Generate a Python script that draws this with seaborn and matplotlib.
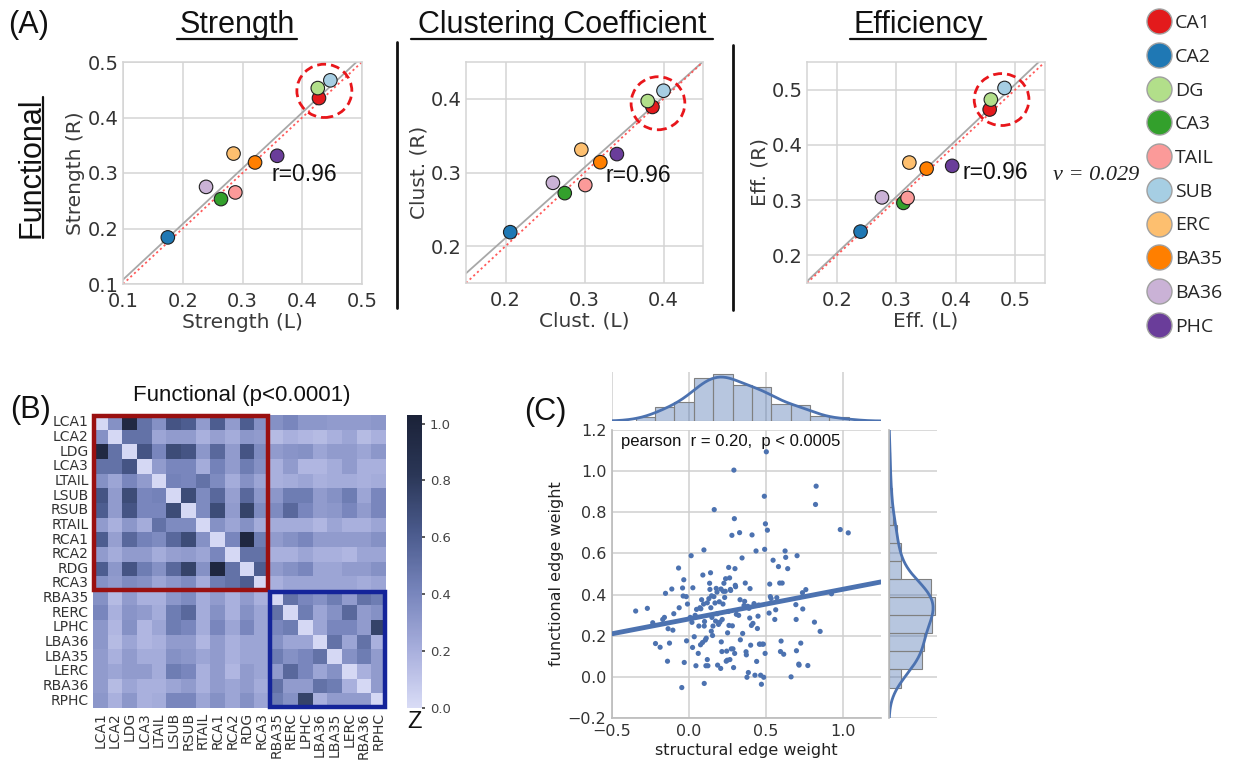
import numpy as np
import pandas as pd
import matplotlib
matplotlib.use("Agg")
import matplotlib.pyplot as plt
import seaborn as sns
from matplotlib.patches import Ellipse, Rectangle
from matplotlib.lines import Line2D
from matplotlib.colors import LinearSegmentedColormap

# ---------------- data ----------------
regions = ["CA1", "CA2", "DG", "CA3", "TAIL", "SUB", "ERC", "BA35", "BA36", "PHC"]
region_colors = ["#e31a1c", "#1f78b4", "#b2df8a", "#33a02c", "#fb9a99",
                 "#a6cee3", "#fdbf6f", "#ff7f00", "#cab2d6", "#6a3d9a"]

strength_L = [0.428, 0.175, 0.426, 0.264, 0.288, 0.447, 0.285, 0.321, 0.239, 0.358]
strength_R = [0.435, 0.184, 0.453, 0.253, 0.265, 0.467, 0.335, 0.319, 0.275, 0.331]
clust_L = [0.386, 0.206, 0.380, 0.275, 0.301, 0.400, 0.296, 0.320, 0.260, 0.341]
clust_R = [0.389, 0.219, 0.397, 0.272, 0.283, 0.411, 0.331, 0.314, 0.286, 0.325]
eff_L = [0.457, 0.240, 0.459, 0.312, 0.319, 0.482, 0.322, 0.351, 0.276, 0.394]
eff_R = [0.464, 0.243, 0.482, 0.295, 0.304, 0.503, 0.368, 0.357, 0.305, 0.362]

hm_labels = ["LCA1", "LCA2", "LDG", "LCA3", "LTAIL", "LSUB", "RSUB", "RTAIL", "RCA1", "RCA2",
             "RDG", "RCA3", "RBA35", "RERC", "LPHC", "LBA36", "LBA35", "LERC", "RBA36", "RPHC"]
hm_values = [
    [0.02, 0.35, 0.95, 0.50, 0.35, 0.65, 0.60, 0.30, 0.60, 0.30, 0.60, 0.35, 0.35, 0.40, 0.32, 0.32, 0.30, 0.30, 0.30, 0.32],
    [0.35, 0.02, 0.50, 0.50, 0.25, 0.30, 0.30, 0.20, 0.28, 0.22, 0.32, 0.30, 0.15, 0.20, 0.17, 0.15, 0.20, 0.25, 0.15, 0.20],
    [0.95, 0.50, 0.02, 0.65, 0.40, 0.70, 0.65, 0.32, 0.55, 0.30, 0.65, 0.38, 0.30, 0.33, 0.35, 0.25, 0.30, 0.30, 0.25, 0.32],
    [0.50, 0.50, 0.65, 0.02, 0.30, 0.40, 0.40, 0.22, 0.42, 0.30, 0.45, 0.35, 0.20, 0.30, 0.17, 0.17, 0.22, 0.30, 0.20, 0.20],
    [0.35, 0.25, 0.40, 0.30, 0.02, 0.42, 0.40, 0.50, 0.38, 0.22, 0.35, 0.25, 0.20, 0.22, 0.25, 0.20, 0.22, 0.22, 0.20, 0.22],
    [0.65, 0.30, 0.70, 0.40, 0.42, 0.02, 0.70, 0.38, 0.55, 0.28, 0.55, 0.32, 0.32, 0.45, 0.45, 0.30, 0.35, 0.45, 0.25, 0.40],
    [0.60, 0.30, 0.65, 0.40, 0.40, 0.70, 0.02, 0.38, 0.70, 0.30, 0.75, 0.38, 0.38, 0.55, 0.40, 0.30, 0.32, 0.40, 0.30, 0.40],
    [0.30, 0.20, 0.32, 0.22, 0.50, 0.38, 0.38, 0.02, 0.35, 0.25, 0.35, 0.22, 0.22, 0.22, 0.22, 0.17, 0.25, 0.20, 0.20, 0.25],
    [0.60, 0.28, 0.55, 0.42, 0.38, 0.55, 0.70, 0.35, 0.02, 0.40, 0.97, 0.45, 0.30, 0.35, 0.40, 0.30, 0.30, 0.30, 0.30, 0.35],
    [0.30, 0.22, 0.30, 0.30, 0.22, 0.28, 0.30, 0.25, 0.40, 0.02, 0.50, 0.50, 0.20, 0.20, 0.25, 0.20, 0.20, 0.17, 0.25, 0.25],
    [0.60, 0.32, 0.65, 0.45, 0.35, 0.55, 0.75, 0.35, 0.97, 0.50, 0.02, 0.60, 0.30, 0.35, 0.40, 0.25, 0.25, 0.30, 0.30, 0.35],
    [0.35, 0.30, 0.38, 0.35, 0.25, 0.32, 0.38, 0.22, 0.45, 0.50, 0.60, 0.02, 0.20, 0.25, 0.25, 0.25, 0.25, 0.25, 0.22, 0.25],
    [0.35, 0.15, 0.30, 0.20, 0.20, 0.32, 0.38, 0.22, 0.30, 0.20, 0.30, 0.20, 0.02, 0.50, 0.40, 0.35, 0.45, 0.30, 0.50, 0.45],
    [0.40, 0.20, 0.33, 0.30, 0.22, 0.45, 0.55, 0.22, 0.35, 0.20, 0.35, 0.25, 0.50, 0.02, 0.45, 0.25, 0.35, 0.55, 0.30, 0.35],
    [0.32, 0.17, 0.35, 0.17, 0.25, 0.45, 0.40, 0.22, 0.40, 0.25, 0.40, 0.25, 0.40, 0.45, 0.02, 0.25, 0.40, 0.40, 0.30, 0.75],
    [0.32, 0.15, 0.25, 0.17, 0.20, 0.30, 0.30, 0.17, 0.30, 0.20, 0.25, 0.25, 0.35, 0.25, 0.25, 0.02, 0.50, 0.25, 0.50, 0.20],
    [0.30, 0.20, 0.30, 0.22, 0.22, 0.35, 0.32, 0.25, 0.30, 0.20, 0.25, 0.25, 0.45, 0.35, 0.40, 0.50, 0.02, 0.35, 0.45, 0.30],
    [0.30, 0.25, 0.30, 0.30, 0.22, 0.45, 0.40, 0.20, 0.30, 0.17, 0.30, 0.25, 0.30, 0.55, 0.40, 0.25, 0.35, 0.02, 0.20, 0.30],
    [0.30, 0.15, 0.25, 0.20, 0.20, 0.25, 0.30, 0.20, 0.30, 0.25, 0.30, 0.22, 0.50, 0.30, 0.30, 0.50, 0.45, 0.20, 0.02, 0.30],
    [0.32, 0.20, 0.32, 0.20, 0.22, 0.40, 0.40, 0.25, 0.35, 0.25, 0.35, 0.25, 0.45, 0.35, 0.75, 0.20, 0.30, 0.30, 0.30, 0.02],
]
cbar_ticks = [0.0, 0.2, 0.4, 0.6, 0.8, 1.0]

structural_w = [
    -0.346, -0.270, -0.235, -0.217, -0.187, -0.170, -0.159, -0.152, -0.139, -0.135,
    -0.126, -0.111, -0.104, -0.098, -0.067, -0.063, -0.046, -0.041, -0.037, -0.033,
    -0.030, -0.017, -0.015, -0.009, 0.009, 0.015, 0.020, 0.024, 0.026, 0.035,
    0.041, 0.046, 0.050, 0.061, 0.065, 0.072, 0.076, 0.078, 0.083, 0.089,
    0.091, 0.096, 0.098, 0.100, 0.100, 0.102, 0.107, 0.111, 0.113, 0.120,
    0.120, 0.124, 0.130, 0.135, 0.137, 0.141, 0.143, 0.146, 0.148, 0.150,
    0.154, 0.157, 0.163, 0.165, 0.170, 0.174, 0.178, 0.183, 0.185, 0.187,
    0.193, 0.198, 0.202, 0.207, 0.209, 0.211, 0.215, 0.217, 0.222, 0.224,
    0.228, 0.233, 0.237, 0.239, 0.243, 0.246, 0.250, 0.252, 0.257, 0.259,
    0.261, 0.265, 0.267, 0.270, 0.272, 0.276, 0.280, 0.283, 0.287, 0.291,
    0.293, 0.296, 0.298, 0.300, 0.302, 0.304, 0.309, 0.324, 0.330, 0.333,
    0.335, 0.346, 0.350, 0.359, 0.363, 0.367, 0.372, 0.374, 0.378, 0.383,
    0.387, 0.391, 0.396, 0.398, 0.402, 0.407, 0.411, 0.417, 0.424, 0.430,
    0.437, 0.441, 0.446, 0.450, 0.454, 0.459, 0.463, 0.467, 0.472, 0.478,
    0.485, 0.487, 0.491, 0.493, 0.496, 0.498, 0.504, 0.511, 0.522, 0.526,
    0.530, 0.535, 0.548, 0.559, 0.565, 0.572, 0.583, 0.591, 0.596, 0.600,
    0.607, 0.617, 0.626, 0.630, 0.643, 0.665, 0.696, 0.698, 0.700, 0.704,
    0.715, 0.717, 0.728, 0.739, 0.741, 0.761, 0.774, 0.817, 0.824, 0.828,
    0.854, 0.928, 0.985, 1.037,
]
functional_w = [
    0.320, 0.333, 0.263, 0.162, 0.144, 0.279, 0.289, 0.406, 0.076, 0.234,
    0.164, 0.427, 0.227, 0.307, 0.529, 0.336, -0.052, 0.432, 0.393, 0.472,
    0.070, 0.390, 0.175, 0.354, 0.289, 0.589, 0.265, 0.143, 0.433, 0.195,
    0.299, 0.054, 0.328, 0.114, 0.247, 0.336, 0.156, 0.331, 0.375, 0.167,
    0.495, 0.354, 0.617, 0.247, -0.032, 0.269, 0.179, 0.054, 0.188, 0.084,
    0.360, 0.054, 0.380, 0.455, 0.425, 0.506, 0.336, 0.222, 0.394, 0.289,
    0.201, 0.247, 0.390, 0.813, 0.359, 0.271, 0.430, 0.412, 0.307, 0.057,
    0.255, 0.365, 0.266, 0.041, 0.427, 0.170, 0.123, 0.279, 0.354, 0.416,
    0.455, 0.386, 0.416, 0.477, 0.076, 0.125, 0.081, 0.214, 0.318, 0.532,
    0.250, 0.481, 0.084, 0.425, 0.420, 0.136, 0.688, 0.248, 0.136, 0.045,
    1.005, 0.769, 0.114, 0.526, 0.445, 0.438, 0.304, 0.299, 0.701, 0.375,
    0.180, 0.578, 0.211, 0.347, 0.367, 0.456, 0.122, 0.107, -0.002, 0.343,
    0.021, 0.333, 0.286, 0.429, 0.154, 0.250, 0.690, 0.260, 0.356, 0.008,
    0.612, 0.075, 0.235, 0.295, 0.349, 0.159, 0.159, 0.008, -0.036, 0.159,
    0.159, -0.002, 0.878, 0.620, 0.114, 0.744, 1.094, 0.713, 0.310, 0.451,
    0.390, 0.381, 0.567, 0.279, 0.326, 0.385, 0.536, 0.456, 0.123, 0.174,
    0.456, 0.110, 0.612, 0.581, 0.526, 0.000, 0.351, 0.279, 0.127, 0.589,
    0.062, 0.057, 0.164, 0.409, 0.330, 0.424, 0.055, 0.266, 0.838, 0.927,
    0.221, 0.404, 0.716, 0.700,
]

# ---------------- figure ----------------
sns.set_theme(style="white")
plt.rcParams["font.family"] = ["DejaVu Sans"]
W, H = 1233, 772
fig = plt.figure(figsize=(W / 100, H / 100), dpi=100)


def ax_px(l, t, r, b):
    return fig.add_axes([l / W, 1 - b / H, (r - l) / W, (b - t) / H])


def fx(x):
    return x / W


def fy(y):
    return 1 - y / H


pal = dict(zip(regions, region_colors))
GRID = "#d4d4d4"
TXT = "#333333"


def panel_a(ax, xs, ys, lim, ticks, xlabel, ylabel, circ, rpos):
    df = pd.DataFrame({"L": xs, "R": ys, "region": regions})
    ax.set_xlim(lim)
    ax.set_ylim(lim)
    sns.regplot(data=df, x="L", y="R", ax=ax, scatter=False, ci=None, truncate=False,
                color="#a8a8a8", line_kws={"lw": 1.3, "zorder": 2})
    ax.axline((0, 0), (1, 1), color="#ff5a5a", ls=(0, (1.2, 1.6)), lw=1.3, zorder=2)
    sns.scatterplot(data=df, x="L", y="R", hue="region", palette=pal, s=95,
                    edgecolor="#202020", linewidth=0.8, legend=False, ax=ax, zorder=4)
    ax.add_patch(Ellipse(circ[:2], 2 * circ[2], 2 * circ[3], fill=False,
                         ec="#e8161b", ls=(0, (3.2, 1.8)), lw=2.0, zorder=5))
    ax.text(rpos[0], rpos[1], "r=0.96", fontsize=16.5, family="Liberation Sans",
            color="#111", va="center", ha="left", zorder=6)
    ax.set_xlim(lim)
    ax.set_ylim(lim)
    ax.set_xticks(ticks)
    ax.set_yticks(ticks)
    ax.grid(True, color=GRID, lw=1.1)
    ax.set_axisbelow(True)
    for s in ax.spines.values():
        s.set_color(GRID)
        s.set_linewidth(1.1)
    ax.tick_params(labelsize=14, colors=TXT, length=0)
    ax.tick_params(axis="x", pad=6)
    ax.tick_params(axis="y", pad=3)
    ax.set_xlabel(xlabel, fontsize=14.5, color="#3a3a3a", labelpad=1)
    ax.set_ylabel(ylabel, fontsize=14.5, color="#3a3a3a", labelpad=2)


ax1 = ax_px(123, 62, 362, 284)
panel_a(ax1, strength_L, strength_R, (0.1, 0.5), [0.1, 0.2, 0.3, 0.4, 0.5],
        "Strength (L)", "Strength (R)", (0.437, 0.448, 0.046, 0.048), (0.349, 0.298))
ax2 = ax_px(466, 62, 703, 283)
panel_a(ax2, clust_L, clust_R, (0.15, 0.45), [0.2, 0.3, 0.4],
        "Clust. (L)", "Clust. (R)", (0.393, 0.394, 0.034, 0.036), (0.326, 0.296))
ax3 = ax_px(807, 62, 1045, 283)
panel_a(ax3, eff_L, eff_R, (0.15, 0.55), [0.2, 0.3, 0.4, 0.5],
        "Eff. (L)", "Eff. (R)", (0.477, 0.482, 0.046, 0.047), (0.412, 0.35))

# titles with underlines
title_font = dict(family="Liberation Sans", fontsize=22, color="#111")
for cx, txt, (u0, u1) in [(237, "Strength", (177, 297)),
                          (562, "Clustering Coefficient", (411, 713)),
                          (918, "Efficiency", (850, 986))]:
    fig.text(fx(cx), fy(33), txt, ha="center", va="baseline", **title_font)
    fig.add_artist(Line2D([fx(u0), fx(u1)], [fy(39), fy(39)], color="#111", lw=1.6))

fig.text(fx(8), fy(33), "(A)", ha="left", va="baseline", **title_font)
fig.text(fx(32), fy(168), "Functional", rotation=90, ha="center", va="center", **title_font)
fig.add_artist(Line2D([fx(43), fx(43)], [fy(97), fy(238)], color="#111", lw=1.6))

# separators
fig.add_artist(Line2D([fx(397), fx(397)], [fy(42), fy(308)], color="#111", lw=2))
fig.add_artist(Line2D([fx(733), fx(733)], [fy(45), fy(310)], color="#111", lw=2))

fig.text(fx(1053), fy(176), "ν = 0.029", family="Liberation Serif", style="italic",
         fontsize=16, ha="left", va="center", color="#222")

# legend
handles = [Line2D([], [], marker="o", ls="", markersize=18, markerfacecolor=c,
                  markeredgecolor="#a0a0a0", markeredgewidth=1.0) for c in region_colors]
fig.legend(handles, regions, loc="upper left", bbox_to_anchor=(fx(1146), fy(14)),
           frameon=False, prop={"family": "Open Sans", "size": 14},
           handletextpad=0.2, labelspacing=0.81, handlelength=1.3, borderaxespad=0,
           borderpad=0)

# ---------------- panel B ----------------
cmap = LinearSegmentedColormap.from_list(
    "func", ["#d9dcf6", "#a7aedc", "#7684bb", "#4a5a8c", "#2a3656", "#1b2238"])
hax = ax_px(93, 415, 386, 708)
cax = ax_px(407, 415, 422, 708)
hm_df = pd.DataFrame(hm_values, index=hm_labels, columns=hm_labels)
sns.heatmap(hm_df, ax=hax, cmap=cmap, vmin=0, vmax=1.03, cbar_ax=cax,
            xticklabels=hm_labels, yticklabels=hm_labels,
            cbar_kws={"ticks": cbar_ticks})
hax.tick_params(labelsize=10, colors="#333", length=2, pad=1)
hax.set_yticklabels(hm_labels, rotation=0)
hax.set_xticklabels(hm_labels, rotation=90)
cax.tick_params(labelsize=9.5, colors="#444", length=2)
cax.set_yticklabels([f"{t:.1f}" for t in cbar_ticks])
for s in cax.spines.values():
    s.set_visible(False)
hax.add_patch(Rectangle((0, 0), 12, 12, fill=False, ec="#ee1010", lw=1.2, clip_on=False, zorder=5))
hax.add_patch(Rectangle((0.08, 0.08), 11.84, 11.84, fill=False, ec="#9a1010", lw=3.2, clip_on=False, zorder=6))
hax.add_patch(Rectangle((12, 12), 8, 8, fill=False, ec="#ee1010", lw=1.2, clip_on=False, zorder=5))
hax.add_patch(Rectangle((12.08, 12.08), 7.84, 7.84, fill=False, ec="#14249a", lw=3.2, clip_on=False, zorder=6))
fig.text(fx(242), fy(395), "Functional (p<0.0001)", ha="center", va="center",
         family="Liberation Sans", fontsize=16, color="#111")
fig.text(fx(10), fy(410), "(B)", ha="left", va="center", **title_font)
fig.text(fx(415), fy(722), "Z", ha="center", va="center", family="Liberation Sans",
         fontsize=17, color="#111")

# ---------------- panel C ----------------
jdf = pd.DataFrame({"structural": structural_w, "functional": functional_w})
jax = ax_px(612, 430, 881, 718)
tax = ax_px(612, 372, 881, 421)
rax = ax_px(889, 430, 937, 718)
XL, YL = (-0.5, 1.25), (-0.2, 1.2)
jax.set_xlim(XL)
jax.set_ylim(YL)
sns.scatterplot(data=jdf, x="structural", y="functional", ax=jax, s=14,
                color="#4c72b0", edgecolor="none", zorder=3)
sns.regplot(data=jdf, x="structural", y="functional", ax=jax, scatter=False,
            ci=None, truncate=False, color="#4c72b0", line_kws={"lw": 3.5, "zorder": 4})
jax.set_xlim(XL)
jax.set_ylim(YL)
jax.set_xticks([-0.5, 0.0, 0.5, 1.0])
jax.set_yticks([-0.2, 0.0, 0.2, 0.4, 0.6, 0.8, 1.0, 1.2])
jax.set_yticklabels(["\u22120.2", "0.0", "0.2", "0.4", "0.6", "0.8", "1.0", "1.2"])
jax.set_xticklabels(["\u22120.5", "0.0", "0.5", "1.0"])
jax.grid(True, color="#cfcfcf", lw=1.1)
jax.set_axisbelow(True)
for k, s in jax.spines.items():
    s.set_visible(k in ("left", "bottom"))
    s.set_color("#bdbdbd")
jax.tick_params(labelsize=11.5, colors="#333", length=0, pad=4)
jax.set_xlabel("structural edge weight", fontsize=11.5, color="#222", labelpad=3)
jax.set_ylabel("functional edge weight", fontsize=11.5, color="#222", labelpad=3)
jax.text(-0.44, 1.145, "pearson  r = 0.20,  p < 0.0005", fontsize=12, color="#111",
         family="Liberation Sans", va="center", ha="left", zorder=6)

xbins = np.arange(-0.346, 1.1, 0.126)
sns.histplot(data=jdf, x="structural", ax=tax, bins=xbins, stat="density",
             color="#4c72b0", alpha=0.4, edgecolor="#808080", linewidth=0.8)
sns.kdeplot(data=jdf, x="structural", ax=tax, color="#4c72b0", lw=2)
tax.set_xlim(XL)
tax.set_xticks([-0.5, 0.0, 0.5, 1.0])
tax.grid(True, axis="x", color="#cfcfcf", lw=1.1)
tax.set_axisbelow(True)
tax.set_xlabel("")
tax.set_ylabel("")
tax.set_xticklabels([])
tax.set_yticks([])
tax.tick_params(length=0)
for s in tax.spines.values():
    s.set_visible(False)

ybins = np.arange(-0.052, 1.12, 0.088)
sns.histplot(data=jdf, y="functional", ax=rax, bins=ybins, stat="density",
             color="#4c72b0", alpha=0.4, edgecolor="#808080", linewidth=0.8)
sns.kdeplot(data=jdf, y="functional", ax=rax, color="#4c72b0", lw=2)
rax.set_ylim(YL)
rax.set_yticks([-0.2, 0.0, 0.2, 0.4, 0.6, 0.8, 1.0, 1.2])
rax.grid(True, axis="y", color="#cfcfcf", lw=1.1)
rax.set_axisbelow(True)
rax.set_xlabel("")
rax.set_ylabel("")
rax.set_yticklabels([])
rax.set_xticks([])
rax.tick_params(length=0)
for k, s in rax.spines.items():
    s.set_visible(k == "left")
    s.set_color("#bdbdbd")

fig.text(fx(524), fy(412), "(C)", ha="left", va="center", **title_font)

fig.savefig("out.png", dpi=100)
